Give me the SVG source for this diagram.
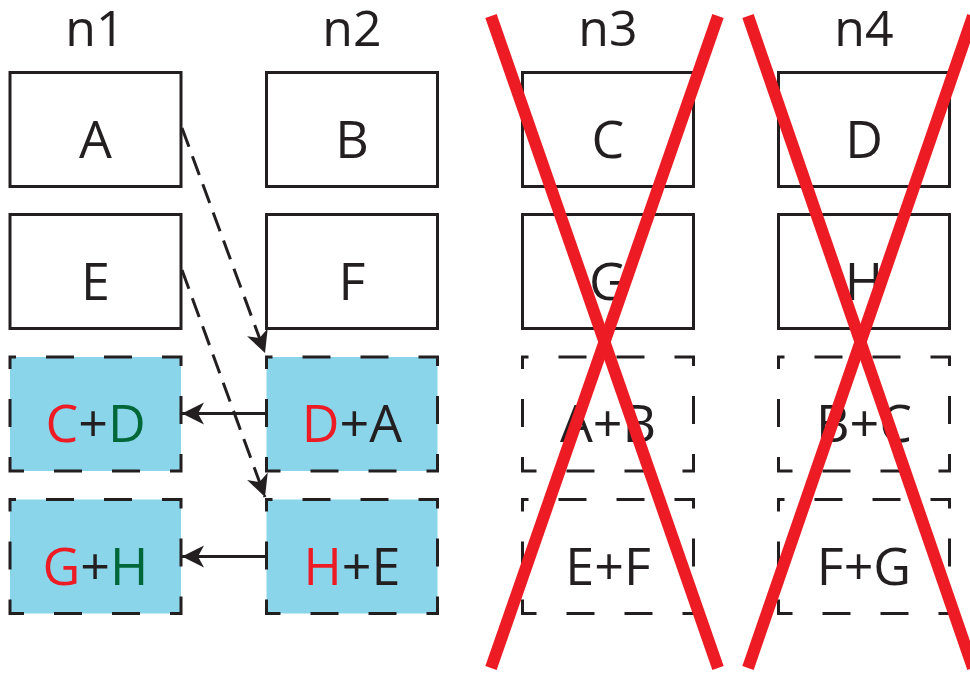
<svg xmlns="http://www.w3.org/2000/svg" width="970" height="675" viewBox="0 0 970 675">
<style>
.box{fill:#fff;stroke:#231f20;stroke-width:3}
.dbox{fill:none;stroke:#231f20;stroke-width:3;stroke-dasharray:28 30;stroke-dashoffset:22}
.fill{fill:#8ad5ea}
.lbl{font-family:"Open Sans","Liberation Sans",sans-serif;font-size:52px;fill:#231f20;text-anchor:middle}
.ttl{font-family:"Open Sans","Liberation Sans",sans-serif;font-size:50px;fill:#231f20;text-anchor:middle}
.r{fill:#ed1c24}
.g{fill:#006838}
.arr{stroke:#231f20;stroke-width:3;fill:none}
.darr{stroke:#231f20;stroke-width:3;fill:none;stroke-dasharray:20 10}
.x{stroke:#ed1c24;stroke-width:12;fill:none}
</style>
<defs>
<marker id="ah" viewBox="-24 -12 26 24" refX="0" refY="0" markerWidth="26" markerHeight="24" markerUnits="userSpaceOnUse" orient="auto">
<path d="M0,0 L-22,-11 L-16,0 L-22,11 Z" fill="#231f20"/>
</marker>
</defs>
<rect width="970" height="675" fill="#fff"/>

<g id="titles">
<text class="ttl" x="95" y="46">n1</text>
<text class="ttl" x="352" y="46">n2</text>
<text class="ttl" x="608" y="46">n3</text>
<text class="ttl" x="864" y="46">n4</text>
</g>

<g id="n1-A"><rect class="box" x="10" y="72.5" width="171" height="114"/><text class="lbl" x="95.5" y="158">A</text></g>
<g id="n2-B"><rect class="box" x="266.5" y="72.5" width="171" height="114"/><text class="lbl" x="352" y="158">B</text></g>
<g id="n3-C"><rect class="box" x="522.5" y="72.5" width="171" height="114"/><text class="lbl" x="608" y="158">C</text></g>
<g id="n4-D"><rect class="box" x="778.5" y="72.5" width="171" height="114"/><text class="lbl" x="864" y="158">D</text></g>

<g id="n1-E"><rect class="box" x="10" y="214.5" width="171" height="114"/><text class="lbl" x="95.5" y="300">E</text></g>
<g id="n2-F"><rect class="box" x="266.5" y="214.5" width="171" height="114"/><text class="lbl" x="352" y="300">F</text></g>
<g id="n3-G"><rect class="box" x="522.5" y="214.5" width="171" height="114"/><text class="lbl" x="608" y="300">G</text></g>
<g id="n4-H"><rect class="box" x="778.5" y="214.5" width="171" height="114"/><text class="lbl" x="864" y="300">H</text></g>

<g id="n1-CD"><rect class="fill" x="10" y="357" width="171" height="114"/><rect class="dbox" x="10" y="357" width="171" height="114"/><text class="lbl" x="95.5" y="442"><tspan class="r">C</tspan>+<tspan class="g">D</tspan></text></g>
<g id="n2-DA"><rect class="fill" x="266.5" y="357" width="171" height="114"/><rect class="dbox" x="266.5" y="357" width="171" height="114"/><text class="lbl" x="352" y="442"><tspan class="r">D</tspan>+A</text></g>
<g id="n3-AB"><rect class="dbox" x="522.5" y="357" width="171" height="114"/><text class="lbl" x="608" y="442">A+B</text></g>
<g id="n4-BC"><rect class="dbox" x="778.5" y="357" width="171" height="114"/><text class="lbl" x="864" y="442">B+C</text></g>

<g id="n1-GH"><rect class="fill" x="10" y="499.5" width="171" height="114"/><rect class="dbox" x="10" y="499.5" width="171" height="114"/><text class="lbl" x="95.5" y="585"><tspan class="r">G</tspan>+<tspan class="g">H</tspan></text></g>
<g id="n2-HE"><rect class="fill" x="266.5" y="499.5" width="171" height="114"/><rect class="dbox" x="266.5" y="499.5" width="171" height="114"/><text class="lbl" x="352" y="585"><tspan class="r">H</tspan>+E</text></g>
<g id="n3-EF"><rect class="dbox" x="522.5" y="499.5" width="171" height="114"/><text class="lbl" x="608" y="585">E+F</text></g>
<g id="n4-FG"><rect class="dbox" x="778.5" y="499.5" width="171" height="114"/><text class="lbl" x="864" y="585">F+G</text></g>

<g id="connectors">
<line class="darr" x1="182" y1="128" x2="265" y2="353" marker-end="url(#ah)"/>
<line class="darr" x1="182" y1="270" x2="265" y2="497" marker-end="url(#ah)"/>
<line class="arr" x1="266" y1="413.5" x2="182" y2="413.5" marker-end="url(#ah)"/>
<line class="arr" x1="266" y1="556.5" x2="182" y2="556.5" marker-end="url(#ah)"/>
</g>

<g id="crosses">
<line class="x" x1="491" y1="16" x2="718" y2="668"/>
<line class="x" x1="718" y1="16" x2="491" y2="668"/>
<line class="x" x1="748" y1="16" x2="973" y2="668"/>
<line class="x" x1="973" y1="16" x2="748" y2="668"/>
</g>
</svg>
